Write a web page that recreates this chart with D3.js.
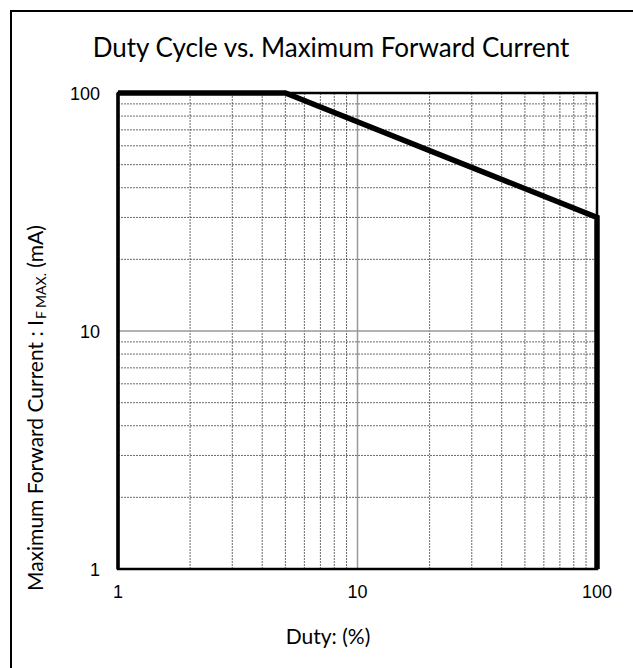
<!DOCTYPE html>
<html>
<head>
<meta charset="utf-8">
<script src="https://cdn.jsdelivr.net/npm/d3@7"></script>
<style>
  body { margin: 0; background: #fff; }
  .tick-label { font-family: "Liberation Sans", Arial, sans-serif; font-size: 18px; fill: #000; }
  .hum { font-family: "Lato", "Open Sans", sans-serif; fill: #000; }
</style>
</head>
<body>
<div id="graphic"></div>
<script>
// data
var duty = [1, 5, 100, 100];        // %
var current = [100, 100, 30, 1];    // mA
var xTicks = [1, 10, 100];
var yTicks = [1, 10, 100];

var width = 633, height = 668;
var pLeft = 118, pRight = 597, pTop = 93, pBottom = 569;

var svg = d3.select('#graphic')
  .append('svg')
  .attr("width", width)
  .attr("height", height);

// outer frame (runs off right/bottom edge)
svg.append("rect")
  .attr("x", 11).attr("y", 11)
  .attr("width", 700).attr("height", 700)
  .attr("fill", "none")
  .attr("stroke", "#000")
  .attr("stroke-width", 2);

var x = d3.scaleLog().domain([1, 100]).range([pLeft, pRight]);
var y = d3.scaleLog().domain([1, 100]).range([pBottom, pTop]);

// minor grid
var minors = [];
[1, 10].forEach(function(d){ for (var k = 2; k <= 9; k++) minors.push(d*k); });

var grid = svg.append("g").attr("class", "grid");

grid.selectAll("line.vx")
  .data(minors)
  .enter().append("line")
  .attr("x1", function(d){ return x(d); })
  .attr("x2", function(d){ return x(d); })
  .attr("y1", pTop).attr("y2", pBottom)
  .attr("stroke", "#444")
  .attr("stroke-width", 0.8)
  .attr("stroke-dasharray", "2,1");

grid.selectAll("line.hy")
  .data(minors)
  .enter().append("line")
  .attr("y1", function(d){ return y(d); })
  .attr("y2", function(d){ return y(d); })
  .attr("x1", pLeft).attr("x2", pRight)
  .attr("stroke", "#444")
  .attr("stroke-width", 0.8)
  .attr("stroke-dasharray", "2,1");

// major grid at 10
grid.append("line")
  .attr("x1", x(10)).attr("x2", x(10))
  .attr("y1", pTop).attr("y2", pBottom)
  .attr("stroke", "#999").attr("stroke-width", 1.5);
grid.append("line")
  .attr("y1", y(10)).attr("y2", y(10))
  .attr("x1", pLeft).attr("x2", pRight)
  .attr("stroke", "#999").attr("stroke-width", 1.5);

// plot border
svg.append("rect")
  .attr("x", pLeft).attr("y", pTop)
  .attr("width", pRight - pLeft).attr("height", pBottom - pTop)
  .attr("fill", "none")
  .attr("stroke", "#000")
  .attr("stroke-width", 2.5);
svg.append("line")
  .attr("x1", pLeft).attr("x2", pLeft)
  .attr("y1", pTop).attr("y2", pBottom)
  .attr("stroke", "#000").attr("stroke-width", 3.5);

// curve
var line = d3.line()
  .x(function(d){ return x(d[0]); })
  .y(function(d){ return y(d[1]); });

svg.append("path")
  .datum(d3.zip(duty, current))
  .attr("d", line)
  .attr("fill", "none")
  .attr("stroke", "#000")
  .attr("stroke-width", 5.5)
  .attr("stroke-linejoin", "miter");

// tick labels
svg.selectAll("text.xt")
  .data(xTicks)
  .enter().append("text")
  .attr("class", "tick-label")
  .attr("x", function(d){ return x(d); })
  .attr("y", 598)
  .attr("text-anchor", "middle")
  .text(function(d){ return d; });

svg.selectAll("text.yt")
  .data(yTicks)
  .enter().append("text")
  .attr("class", "tick-label")
  .attr("x", 100)
  .attr("y", function(d){ return y(d) + 6.5; })
  .attr("text-anchor", "end")
  .text(function(d){ return d; });

// title
svg.append("text")
  .attr("class", "hum")
  .attr("x", 331).attr("y", 57)
  .attr("text-anchor", "middle")
  .style("font-size", "26px")
  .text("Duty Cycle vs. Maximum Forward Current");

// x label
svg.append("text")
  .attr("class", "hum")
  .attr("x", 328).attr("y", 644)
  .attr("text-anchor", "middle")
  .style("font-size", "21px")
  .text("Duty: (%)");

// y label
var yl = svg.append("text")
  .attr("class", "hum")
  .attr("transform", "translate(43,591) rotate(-90)")
  .attr("text-anchor", "start")
  .style("font-size", "21px");
yl.append("tspan").text("Maximum Forward Current : I");
yl.append("tspan").attr("dy", 3).attr("dx", 1).style("font-size", "14px").text("F MAX.");
yl.append("tspan").attr("dy", -3).text(" (mA)");
</script>
</body>
</html>
